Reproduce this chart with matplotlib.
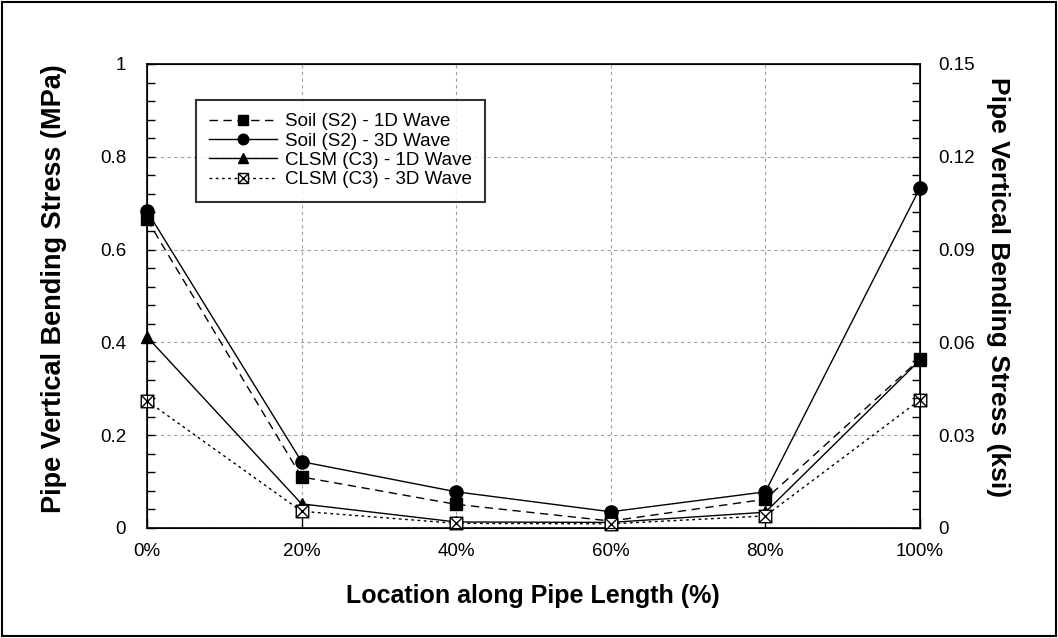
import matplotlib
matplotlib.use("Agg")
import matplotlib.pyplot as plt
from matplotlib.path import Path
from matplotlib.ticker import MultipleLocator, FuncFormatter

plt.rcParams['font.family'] = ['Liberation Sans', 'DejaVu Sans']

# ---------- DATA ----------
location = [0, 20, 40, 60, 80, 100]   # % along pipe length
soil_1d = [0.665, 0.110, 0.051, 0.015, 0.062, 0.364]
soil_3d = [0.683, 0.143, 0.078, 0.035, 0.078, 0.733]
clsm_1d = [0.412, 0.052, 0.013, 0.012, 0.034, 0.362]
clsm_3d = [0.274, 0.036, 0.010, 0.009, 0.026, 0.276]
x_ticks = [0, 20, 40, 60, 80, 100]
mpa_ticks = [0, 0.2, 0.4, 0.6, 0.8, 1.0]
ksi_ticks = [0, 0.03, 0.06, 0.09, 0.12, 0.15]

# square with a cross inside
box_x = Path([(-1, -1), (1, -1), (1, 1), (-1, 1), (-1, -1),
              (-1, -1), (1, 1), (-1, 1), (1, -1)],
             [Path.MOVETO, Path.LINETO, Path.LINETO, Path.LINETO, Path.CLOSEPOLY,
              Path.MOVETO, Path.LINETO, Path.MOVETO, Path.LINETO])

# ---------- PLOT ----------
W, H = 1058, 638
fig = plt.figure(figsize=(W / 100, H / 100), dpi=100)
ax = fig.add_axes([147 / W, 1 - 528 / H, (920 - 147) / W, (528 - 64) / H])

ax.plot(location, soil_1d, color='black', lw=1, ls=(0, (6, 4)), marker='s', ms=9,
        label='Soil (S2) - 1D Wave', zorder=3, clip_on=False)
ax.plot(location, soil_3d, color='black', lw=1, ls='-', marker='o', ms=9.5,
        label='Soil (S2) - 3D Wave', zorder=3, clip_on=False)
ax.plot(location, clsm_1d, color='black', lw=1, ls='-', marker='^', ms=9,
        label='CLSM (C3) - 1D Wave', zorder=3, clip_on=False)
ax.plot(location, clsm_3d, color='black', lw=1, ls=(0, (2, 2.5)), marker=box_x, ms=9,
        mfc='white', mec='black', mew=1, label='CLSM (C3) - 3D Wave', zorder=4,
        clip_on=False)

ax.set_xlim(0, 100)
ax.set_ylim(0, 1)
ax.set_xticks(x_ticks)
ax.set_xticklabels([f'{v}%' for v in x_ticks])
ax.set_yticks(mpa_ticks)
ax.yaxis.set_major_formatter(FuncFormatter(lambda v, p: f'{v:g}'))
ax.yaxis.set_minor_locator(MultipleLocator(0.04))
ax.tick_params(axis='y', which='both', direction='in', labelsize=13.5, length=6,
               width=1, pad=15)
ax.tick_params(axis='x', direction='in', labelsize=13.5, length=7, width=1, pad=11)
ax.grid(True, color='#a0a0a0', ls=(0, (3, 3)), lw=0.8)
for s in ax.spines.values():
    s.set_linewidth(1.2)

ax2 = ax.twinx()
ax2.set_ylim(0, 0.15)
ax2.set_yticks(ksi_ticks)
ax2.yaxis.set_major_formatter(FuncFormatter(lambda v, p: f'{v:g}'))
ax2.yaxis.set_minor_locator(MultipleLocator(0.006))
ax2.tick_params(axis='y', which='both', direction='in', labelsize=13.5, length=6,
                width=1, pad=13)

# axis titles
fig.text(533 / W, 1 - 603 / H, 'Location along Pipe Length (%)', fontsize=18,
         fontweight='bold', ha='center', va='baseline')
fig.text(61 / W, 1 - 289 / H, 'Pipe Vertical Bending Stress (MPa)', fontsize=19.5,
         fontweight='bold', ha='center', va='baseline', rotation=90,
         rotation_mode='anchor')
fig.text(991 / W, 1 - 287 / H, 'Pipe Vertical Bending Stress (ksi)', fontsize=19,
         fontweight='bold', ha='center', va='baseline', rotation=270,
         rotation_mode='anchor')

leg = ax.legend(loc='upper left', bbox_to_anchor=((196 - 147) / 773, (528 - 100) / 464),
                borderaxespad=0, fontsize=13.5, frameon=True, fancybox=False,
                edgecolor='black', handlelength=3.6, borderpad=0.7, labelspacing=0.12,
                handletextpad=0.45, markerscale=0.8)
leg.get_frame().set_linewidth(1.5)
leg.set_zorder(10)

# border around the whole figure
fig.patches.append(plt.Rectangle((0.002, 0.003), 0.996, 0.994, transform=fig.transFigure,
                                 fill=False, edgecolor='black', lw=1.5))

fig.savefig('out.png', dpi=100)
